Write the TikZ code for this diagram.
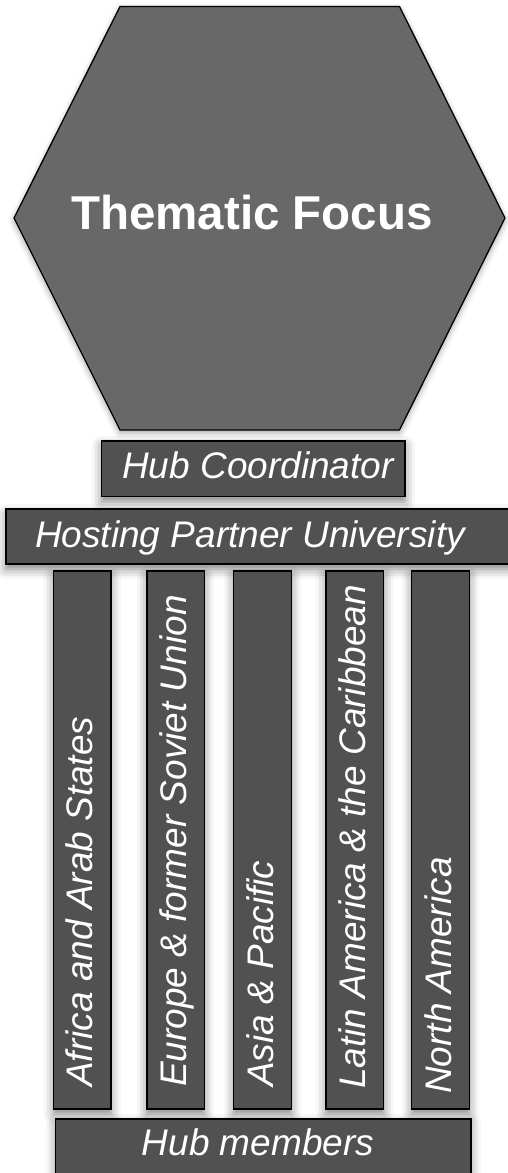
\documentclass[tikz,border=0pt]{standalone}
\usepackage{fontspec}
\setmainfont{Liberation Sans}
\usetikzlibrary{shadows.blur}
\definecolor{hexfill}{HTML}{686868}
\definecolor{boxfill}{HTML}{515151}
\tikzset{
  boxshape/.style={draw=black, line width=1.3pt, fill=boxfill, rectangle, inner sep=0pt,
    blur shadow={shadow xshift=0pt, shadow yshift=-5pt, shadow blur radius=10pt, shadow opacity=50}},
  hexshape/.style={draw=black, line width=1.3pt, fill=hexfill,
    blur shadow={shadow xshift=0pt, shadow yshift=-3pt, shadow blur radius=6pt, shadow opacity=35}},
  label/.style={text=white, inner sep=0pt, font=\fontsize{37}{44}\selectfont\itshape},
  biglabel/.style={text=white, inner sep=0pt, font=\fontsize{47.5}{56}\selectfont\bfseries}
}
\begin{document}
\begin{tikzpicture}[x=1pt,y=-1pt]
\useasboundingbox (0,0) rectangle (508,1173);
% hexagon
\draw[hexshape] (120,6.5) -- (399.5,6.5) -- (505,218) -- (399.5,430) -- (120,430) -- (14,218) -- cycle;
\node[biglabel, anchor=base] (focus) at (252,229) {Thematic Focus};
% hub coordinator
\node[boxshape, minimum width=303.3pt, minimum height=55.7pt] (coord) at (253.35,468.85) {};
\node[label, anchor=base] (coordt) at (258,478) {Hub Coordinator};
% hosting partner university
\node[boxshape, minimum width=506pt, minimum height=55pt] (host) at (259,536.5) {};
\node[label, anchor=base] (hostt) at (250,547) {Hosting Partner University};
% columns
\foreach \n/\xl/\xr in {1/53.7/111, 2/147/204.3, 3/233.7/291.3, 4/326/383.7, 5/411.7/469.3}{
  \pgfmathsetmacro{\w}{\xr-\xl}
  \pgfmathsetmacro{\c}{(\xr+\xl)/2}
  \node[boxshape, minimum width=\w pt, minimum height=538pt] (col\n) at (\c,840) {};
}
\node[label, anchor=base west, rotate=90] (t1) at ($(col1.center)+(10.5,247)$) {Africa and Arab States};
\node[label, anchor=base west, rotate=90] (t2) at ($(col2.center)+(10.5,247)$) {Europe \& former Soviet Union};
\node[label, anchor=base west, rotate=90] (t3) at ($(col3.center)+(10.5,247)$) {Asia \& Pacific};
\node[label, anchor=base west, rotate=90] (t4) at ($(col4.center)+(10.5,249)$) {Latin America \& the Caribbean};
\node[label, anchor=base west, rotate=90] (t5) at ($(col5.center)+(10.5,254)$) {North America};
% hub members
\node[boxshape, minimum width=415.3pt, minimum height=70pt] (members) at (263.35,1154) {};
\node[label, anchor=base] (memberst) at (258,1155) {Hub members};
\end{tikzpicture}
\end{document}
